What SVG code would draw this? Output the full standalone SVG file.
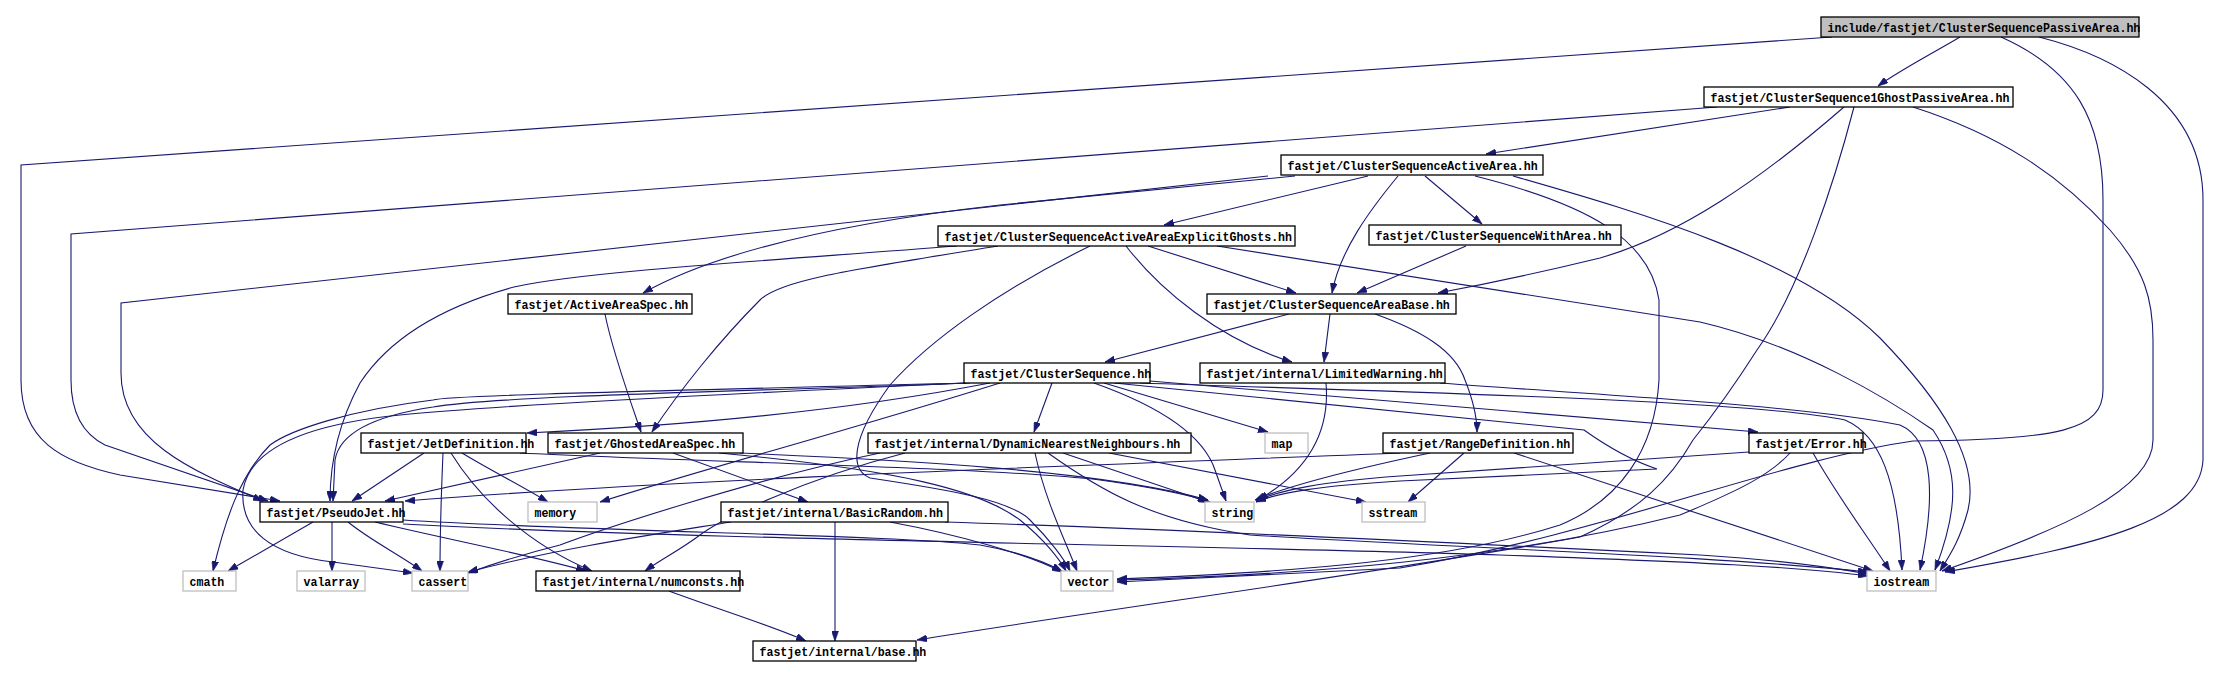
<svg xmlns="http://www.w3.org/2000/svg" width="2222" height="678" viewBox="0 0 2222 678">
<defs>
<marker id="ah" viewBox="0 0 10 7" refX="10" refY="3.5" markerWidth="10" markerHeight="7" markerUnits="userSpaceOnUse" orient="auto">
<path d="M0,0 L10,3.5 L0,7 Z" fill="#191970" stroke="#191970" stroke-width="0.6"/>
</marker>
<style>
.e{fill:none;stroke:#191970;stroke-width:1.1;marker-end:url(#ah)}
.n rect{fill:#ffffff;stroke:#000000;stroke-width:1.3}
.s rect{fill:#ffffff;stroke:#bfbfbf;stroke-width:1.3}
.r rect{fill:#bfbfbf;stroke:#000000;stroke-width:1.3}
text{font-family:"Liberation Mono","DejaVu Sans Mono",monospace;font-size:13.5px;font-weight:bold;fill:#000000;text-anchor:start}
</style>
</defs>
<rect width="2222" height="678" fill="#ffffff"/>
<g id="edges">
<path class="e" d="M1832,37 L21,165 L21,380 C21,440 60,462 120,475 L280,501"/>
<path class="e" d="M1960,37 C1935,52 1900,70 1878,86"/>
<path class="e" d="M2001,37 C2075,70 2103,120 2103,200 L2103,390 C2103,430 2060,440 1913,441 C1780,460 1600,535 1400,568 L1117,582"/>
<path class="e" d="M2039,37 C2110,55 2203,100 2203,200 L2203,460 C2200,520 2100,545 1945,572"/>
<path class="e" d="M1717,107 L71,234 L71,380 C71,415 85,435 105,445 L268,501"/>
<path class="e" d="M1790,107 L1486,154"/>
<path class="e" d="M1844,107 C1760,180 1680,235 1600,258 C1530,275 1470,287 1438,293"/>
<path class="e" d="M1854,107 C1835,180 1800,290 1757,350 C1725,400 1705,425 1693,440 C1670,480 1640,510 1580,537 C1400,570 1100,610 917,640"/>
<path class="e" d="M1913,107 C2000,135 2060,175 2110,230 C2145,270 2153,300 2153,340 L2153,440 C2153,490 2060,530 1942,571"/>
<path class="e" d="M1268,176 L121,303 L121,373 C121,440 190,470 263,501"/>
<path class="e" d="M1295,176 L1000,205 C850,222 720,250 643,293"/>
<path class="e" d="M1368,176 L1164,225"/>
<path class="e" d="M1425,176 L1482,224"/>
<path class="e" d="M1398,176 C1370,210 1340,250 1332,293"/>
<path class="e" d="M1475,176 C1590,205 1650,240 1659,300 L1659,380 C1655,450 1620,500 1560,525 C1450,560 1300,572 1117,579"/>
<path class="e" d="M1513,176 C1650,215 1800,260 1880,338 C1940,400 1980,460 1968,510 C1960,540 1950,555 1940,571"/>
<path class="e" d="M957,246 C750,262 580,272 514,287 C430,310 385,345 360,383 C340,420 330,460 330,501"/>
<path class="e" d="M998,246 C850,270 780,280 760,300 C720,340 680,390 652,432"/>
<path class="e" d="M1148,246 L1296,293"/>
<path class="e" d="M1126,246 C1160,290 1220,340 1292,362"/>
<path class="e" d="M1090,246 C1000,290 930,340 890,385 C850,440 850,470 870,478 C950,490 1010,500 1030,520 C1050,540 1065,560 1070,571"/>
<path class="e" d="M1217,246 L1700,322 C1800,345 1890,400 1933,430 C1960,470 1958,510 1935,570"/>
<path class="e" d="M1466,246 L1357,293"/>
<path class="e" d="M605,314 C612,350 630,400 641,432"/>
<path class="e" d="M1289,314 L1105,362"/>
<path class="e" d="M1330,314 L1324,362"/>
<path class="e" d="M1375,314 C1420,330 1455,350 1465,380 C1473,400 1477,420 1477,432"/>
<path class="e" d="M1326,383 C1330,430 1310,470 1258,500"/>
<path class="e" d="M1440,383 C1600,395 1800,405 1900,425 C1935,440 1935,500 1920,570"/>
<path class="e" d="M970,383 C800,390 500,395 433,407 C380,415 340,430 335,460 L333,501"/>
<path class="e" d="M990,383 C850,410 700,425 527,433"/>
<path class="e" d="M1052,383 L1034,432"/>
<path class="e" d="M1104,383 L1268,432"/>
<path class="e" d="M1094,383 C1170,410 1205,440 1215,470 L1226,501"/>
<path class="e" d="M1000,383 C850,430 700,470 600,502"/>
<path class="e" d="M966,383 C700,390 450,395 433,400 C350,410 290,430 270,445 C240,475 225,520 213,571"/>
<path class="e" d="M966,383 C700,395 500,405 400,415 C300,425 250,450 243,490 C240,530 270,555 333,562 L413,573"/>
<path class="e" d="M1114,383 L1584,430 C1605,445 1630,460 1657,469 L1400,481 C1320,486 1280,492 1256,502"/>
<path class="e" d="M1140,383 C1400,392 1750,400 1845,420 C1880,435 1898,480 1902,570"/>
<path class="e" d="M1150,381 L1758,432"/>
<path class="e" d="M424,453 L352,501"/>
<path class="e" d="M443,453 C441,500 440,540 440,571"/>
<path class="e" d="M451,453 C480,500 530,545 592,571"/>
<path class="e" d="M462,453 C490,470 520,485 548,502"/>
<path class="e" d="M520,453 C700,462 1000,468 1100,480 C1150,487 1190,495 1210,502"/>
<path class="e" d="M600,453 L385,501"/>
<path class="e" d="M673,453 L808,502"/>
<path class="e" d="M719,453 C900,470 980,490 1020,520 C1045,540 1060,560 1066,571"/>
<path class="e" d="M740,453 C900,460 1100,470 1208,500"/>
<path class="e" d="M1035,453 C1045,500 1065,540 1077,571"/>
<path class="e" d="M1063,453 L1208,502"/>
<path class="e" d="M1109,453 L1366,502"/>
<path class="e" d="M1048,453 C1100,490 1150,520 1250,535 C1500,550 1700,555 1868,572"/>
<path class="e" d="M880,453 C750,480 600,530 560,545 C520,555 490,565 468,573"/>
<path class="e" d="M905,453 C800,480 720,520 700,535 C680,550 660,560 645,571"/>
<path class="e" d="M1400,453 C1100,465 700,478 405,501"/>
<path class="e" d="M1430,453 C1350,470 1290,485 1255,500"/>
<path class="e" d="M1464,453 L1408,502"/>
<path class="e" d="M1514,453 L1873,571"/>
<path class="e" d="M1790,453 C1770,475 1740,490 1680,515 C1500,560 1300,575 1117,580"/>
<path class="e" d="M1749,452 L1400,476 C1320,482 1280,490 1256,501"/>
<path class="e" d="M1813,453 C1840,500 1870,540 1890,571"/>
<path class="e" d="M313,522 L228,571"/>
<path class="e" d="M332,522 L332,571"/>
<path class="e" d="M348,522 C370,540 400,555 422,571"/>
<path class="e" d="M375,522 C450,540 530,555 586,571"/>
<path class="e" d="M403,520 C600,532 900,535 980,545 C1020,552 1045,562 1062,571"/>
<path class="e" d="M403,524 C700,540 1200,545 1500,555 C1700,562 1800,567 1868,576"/>
<path class="e" d="M669,591 C720,610 770,625 806,641"/>
<path class="e" d="M835,522 L835,641"/>
<path class="e" d="M890,522 C960,535 1030,555 1062,572"/>
<path class="e" d="M945,522 C1200,530 1500,545 1700,555 C1780,560 1830,567 1868,574"/>
<path class="e" d="M731,522 C650,535 560,548 468,572"/>
</g>
<g id="root" class="r"><rect x="1821" y="17" width="318" height="20"/><text x="1827.5" y="32" textLength="312.8" lengthAdjust="spacingAndGlyphs">include/fastjet/ClusterSequencePassiveArea.hh</text></g>
<g id="n_1ghost" class="n"><rect x="1704" y="87" width="309" height="20"/><text x="1710.5" y="102" textLength="298.9" lengthAdjust="spacingAndGlyphs">fastjet/ClusterSequence1GhostPassiveArea.hh</text></g>
<g id="n_activearea" class="n"><rect x="1281" y="155" width="262" height="20"/><text x="1287.5" y="170" textLength="250.2" lengthAdjust="spacingAndGlyphs">fastjet/ClusterSequenceActiveArea.hh</text></g>
<g id="n_explicitghosts" class="n"><rect x="938" y="226" width="357" height="20"/><text x="944.5" y="241" textLength="347.5" lengthAdjust="spacingAndGlyphs">fastjet/ClusterSequenceActiveAreaExplicitGhosts.hh</text></g>
<g id="n_witharea" class="n"><rect x="1369" y="225" width="252" height="20"/><text x="1375.5" y="240" textLength="236.3" lengthAdjust="spacingAndGlyphs">fastjet/ClusterSequenceWithArea.hh</text></g>
<g id="n_areabase" class="n"><rect x="1207" y="294" width="249" height="20"/><text x="1213.5" y="309" textLength="236.3" lengthAdjust="spacingAndGlyphs">fastjet/ClusterSequenceAreaBase.hh</text></g>
<g id="n_activeareaspec" class="n"><rect x="508" y="294" width="184" height="20"/><text x="514.5" y="309" textLength="173.8" lengthAdjust="spacingAndGlyphs">fastjet/ActiveAreaSpec.hh</text></g>
<g id="n_clustersequence" class="n"><rect x="964" y="363" width="186" height="20"/><text x="970.5" y="378" textLength="180.7" lengthAdjust="spacingAndGlyphs">fastjet/ClusterSequence.hh</text></g>
<g id="n_limitedwarning" class="n"><rect x="1200" y="363" width="245" height="20"/><text x="1206.5" y="378" textLength="236.3" lengthAdjust="spacingAndGlyphs">fastjet/internal/LimitedWarning.hh</text></g>
<g id="n_jetdefinition" class="n"><rect x="361" y="433" width="165" height="20"/><text x="367.5" y="448" textLength="166.8" lengthAdjust="spacingAndGlyphs">fastjet/JetDefinition.hh</text></g>
<g id="n_ghostedareaspec" class="n"><rect x="548" y="433" width="195" height="20"/><text x="554.5" y="448" textLength="180.7" lengthAdjust="spacingAndGlyphs">fastjet/GhostedAreaSpec.hh</text></g>
<g id="n_dnn" class="n"><rect x="868" y="433" width="323" height="20"/><text x="874.5" y="448" textLength="305.8" lengthAdjust="spacingAndGlyphs">fastjet/internal/DynamicNearestNeighbours.hh</text></g>
<g id="n_map" class="s"><rect x="1265" y="433" width="43" height="20"/><text x="1271.5" y="448" textLength="20.9" lengthAdjust="spacingAndGlyphs">map</text></g>
<g id="n_rangedefinition" class="n"><rect x="1383" y="433" width="190" height="20"/><text x="1389.5" y="448" textLength="180.7" lengthAdjust="spacingAndGlyphs">fastjet/RangeDefinition.hh</text></g>
<g id="n_error" class="n"><rect x="1749" y="433" width="114" height="20"/><text x="1755.5" y="448" textLength="111.2" lengthAdjust="spacingAndGlyphs">fastjet/Error.hh</text></g>
<g id="n_pseudojet" class="n"><rect x="260" y="502" width="143" height="20"/><text x="266.5" y="517" textLength="139" lengthAdjust="spacingAndGlyphs">fastjet/PseudoJet.hh</text></g>
<g id="n_memory" class="s"><rect x="528" y="502" width="69" height="20"/><text x="534.5" y="517" textLength="41.7" lengthAdjust="spacingAndGlyphs">memory</text></g>
<g id="n_basicrandom" class="n"><rect x="721" y="502" width="227" height="20"/><text x="727.5" y="517" textLength="215.5" lengthAdjust="spacingAndGlyphs">fastjet/internal/BasicRandom.hh</text></g>
<g id="n_string" class="s"><rect x="1205" y="502" width="49" height="20"/><text x="1211.5" y="517" textLength="41.7" lengthAdjust="spacingAndGlyphs">string</text></g>
<g id="n_sstream" class="s"><rect x="1362" y="502" width="63" height="20"/><text x="1368.5" y="517" textLength="48.7" lengthAdjust="spacingAndGlyphs">sstream</text></g>
<g id="n_cmath" class="s"><rect x="183" y="571" width="53" height="20"/><text x="189.5" y="586" textLength="34.8" lengthAdjust="spacingAndGlyphs">cmath</text></g>
<g id="n_valarray" class="s"><rect x="297" y="571" width="68" height="20"/><text x="303.5" y="586" textLength="55.6" lengthAdjust="spacingAndGlyphs">valarray</text></g>
<g id="n_cassert" class="s"><rect x="412" y="571" width="56" height="20"/><text x="418.5" y="586" textLength="48.7" lengthAdjust="spacingAndGlyphs">cassert</text></g>
<g id="n_numconsts" class="n"><rect x="536" y="571" width="204" height="20"/><text x="542.5" y="586" textLength="201.6" lengthAdjust="spacingAndGlyphs">fastjet/internal/numconsts.hh</text></g>
<g id="n_vector" class="s"><rect x="1061" y="571" width="52" height="20"/><text x="1067.5" y="586" textLength="41.7" lengthAdjust="spacingAndGlyphs">vector</text></g>
<g id="n_iostream" class="s"><rect x="1867" y="571" width="69" height="20"/><text x="1873.5" y="586" textLength="55.6" lengthAdjust="spacingAndGlyphs">iostream</text></g>
<g id="n_base" class="n"><rect x="753" y="641" width="163" height="20"/><text x="759.5" y="656" textLength="166.8" lengthAdjust="spacingAndGlyphs">fastjet/internal/base.hh</text></g>
</svg>
